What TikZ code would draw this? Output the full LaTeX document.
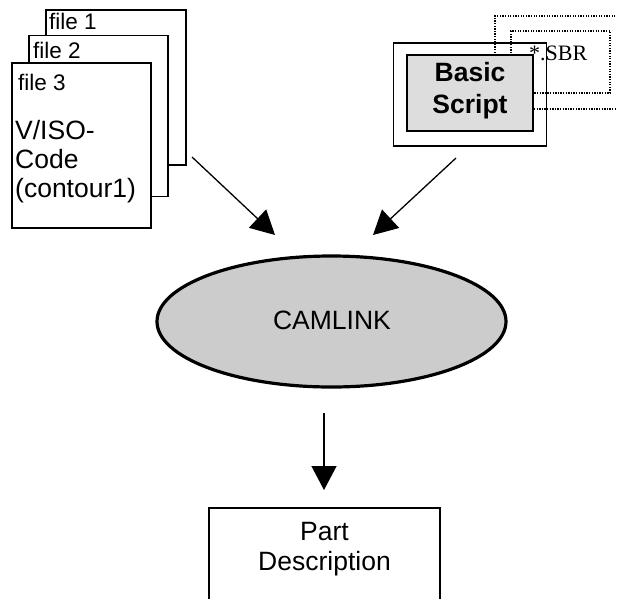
\documentclass[tikz,border=0pt]{standalone}
\usepackage{fontspec}
\setmainfont{Liberation Sans}
\newfontfamily\serifsbr{Liberation Serif}
\usetikzlibrary{arrows.meta,shapes.geometric}
\definecolor{camgray}{HTML}{CCCCCC}
\definecolor{scriptgray}{HTML}{DDDDDD}
\begin{document}
\begin{tikzpicture}[x=1pt,y=-1pt,
  filebox/.style={draw,line width=1.5pt,fill=white,inner sep=0pt},
  filelabel/.style={anchor=west,inner sep=0pt,font=\fontsize{22.5}{26}\selectfont},
  bigtext/.style={inner sep=0pt,font=\fontsize{26.5}{29}\selectfont},
  dotbox/.style={draw,line width=1.3pt,dash pattern=on 1.3pt off 1.3pt,inner sep=0pt},
  flow/.style={line width=1.3pt,-{Triangle[length=24pt,width=25pt]}}]
\useasboundingbox (0,0) rectangle (617,598);
% file stack
\node[filebox,minimum width=140pt,minimum height=155pt] (f1) at (116,87.5) {};
\node[filelabel] (l1) at (49,21) {file 1};
\node[filebox,minimum width=139pt,minimum height=161pt] (f2) at (98.5,116) {};
\node[filelabel] (l2) at (33,50) {file 2};
\node[filebox,minimum width=139pt,minimum height=165pt] (f3) at (81.5,145.5) {};
\node[filelabel] (l3) at (18,82) {file 3};
\node[bigtext,anchor=west,align=left] (code) at (15,162) {V/ISO-\\Code\\(contour1)};
% Basic script
\node[draw,line width=1.5pt,inner sep=0pt,minimum width=153pt,minimum height=103pt] (outer) at (470,94.5) {};
\node[dotbox,minimum width=145pt,minimum height=93pt] (sbr1) at (567.5,62.5) {};
\node[dotbox,minimum width=99pt,minimum height=62pt] (sbr2) at (560.5,62) {};
\node[anchor=west,inner sep=0pt,font=\serifsbr\fontsize{22}{24}\selectfont] (sbr) at (529,53) {*.SBR};
\node[draw,line width=1.5pt,fill=scriptgray,inner sep=0pt,minimum width=126pt,minimum height=76pt] (gray) at (470,93) {};
\node[bigtext,font=\fontsize{26.5}{32}\selectfont\bfseries,align=center] (bs) at (470,91) {Basic\\Script};
% CAMLINK
\node[ellipse,draw,line width=3.2pt,fill=camgray,inner sep=0pt,minimum width=349pt,minimum height=131pt] (cam) at (331.5,321.5) {};
\node[bigtext] (camt) at (332,320.5) {CAMLINK};
% Part description
\node[draw,line width=1.5pt,inner sep=0pt,minimum width=231pt,minimum height=120pt] (part) at (324.5,568) {};
\node[bigtext,align=center,font=\fontsize{26.5}{30}\selectfont] (partt) at (324.5,549) {Part\\Description};
% arrows
\coordinate (a1s) at (192,157);
\coordinate (a1e) at (275,235);
\coordinate (a2s) at (456,158);
\coordinate (a2e) at (373,235);
\coordinate (a3s) at (324,413);
\coordinate (a3e) at (324,490);
\draw[flow] (a1s) -- (a1e);
\draw[flow] (a2s) -- (a2e);
\draw[flow] (a3s) -- (a3e);
\end{tikzpicture}
\end{document}
